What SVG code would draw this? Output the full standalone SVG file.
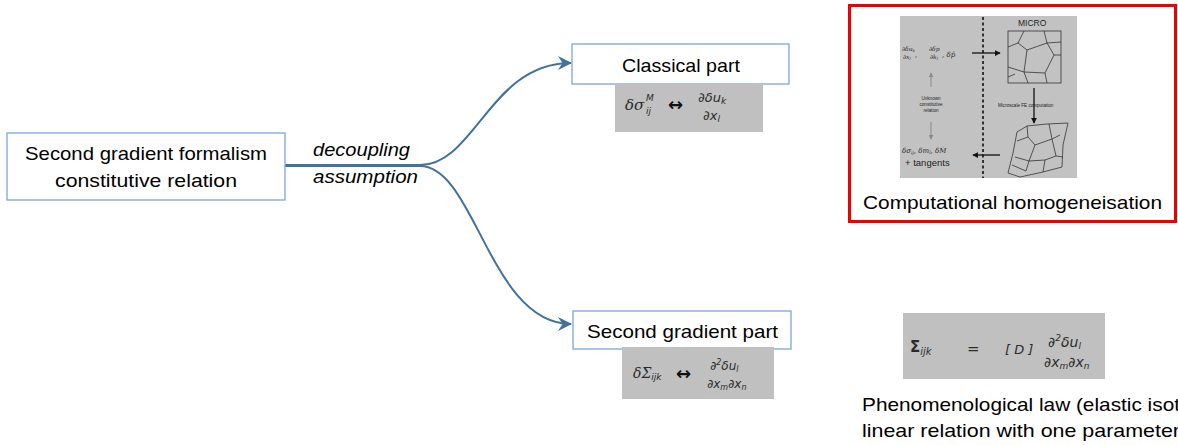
<svg xmlns="http://www.w3.org/2000/svg" width="1178" height="445" viewBox="0 0 1178 445">
  <style>
    .node { fill: #ffffff; stroke: #7BA7D9; stroke-width: 1.3; }
    .lbl { font-family: "Liberation Sans", Arial, sans-serif; font-size: 19px; fill: #000; }
    .ital { font-style: italic; }
    .eqbox { fill: #C0C0C0; }
    .eq { font-family: "DejaVu Serif", "Liberation Serif", serif; font-style: italic; fill: #2b2b2b; }
    .eqs { font-family: "DejaVu Sans", "Liberation Sans", sans-serif; font-style: italic; fill: #2b2b2b; }
    .up { font-style: normal; }
    .conn { fill: none; stroke: #41719C; stroke-width: 2; }
    .grain { fill: none; stroke: #333; stroke-width: 0.8; }
    .tiny { font-family: "Liberation Sans", Arial, sans-serif; fill: #222; }
  </style>
  <defs>
    <marker id="arrow" viewBox="0 0 14 14" refX="13" refY="7" markerWidth="14" markerHeight="14" markerUnits="userSpaceOnUse" orient="auto">
      <path d="M0,0 L14,7 L0,14 L4.5,7 Z" fill="#41719C"/>
    </marker>
    <marker id="blk" viewBox="0 0 8 8" refX="7" refY="4" markerWidth="6" markerHeight="6" markerUnits="userSpaceOnUse" orient="auto">
      <path d="M0,0 L8,4 L0,8 Z" fill="#111"/>
    </marker>
    <marker id="gry" viewBox="0 0 8 8" refX="7" refY="4" markerWidth="5" markerHeight="5" markerUnits="userSpaceOnUse" orient="auto">
      <path d="M0,0 L8,4 L0,8 Z" fill="#8a8a8a"/>
    </marker>
  </defs>

  <rect width="1178" height="445" fill="#ffffff"/>

  <!-- connectors -->
  <g id="connectors">
    <path class="conn" d="M285,165 L420,165 C475,165 490,63 571,63" marker-end="url(#arrow)"/>
    <path class="conn" d="M285,166 L420,166 C475,166 490,324 571,324" marker-end="url(#arrow)"/>
    <text class="lbl ital" x="313" y="156" textLength="97" lengthAdjust="spacingAndGlyphs">decoupling</text>
    <text class="lbl ital" x="313" y="183" textLength="105" lengthAdjust="spacingAndGlyphs">assumption</text>
  </g>

  <!-- source node -->
  <g id="node-formalism">
    <rect class="node" x="7" y="133" width="278" height="67"/>
    <text class="lbl" x="25" y="160" textLength="242" lengthAdjust="spacingAndGlyphs">Second gradient formalism</text>
    <text class="lbl" x="55" y="187" textLength="182" lengthAdjust="spacingAndGlyphs">constitutive relation</text>
  </g>

  <!-- classical part -->
  <g id="node-classical">
    <rect class="node" x="572" y="44" width="217" height="40"/>
    <text class="lbl" x="622" y="72" textLength="118" lengthAdjust="spacingAndGlyphs">Classical part</text>
    <rect class="eqbox" x="615" y="84" width="148" height="48"/>
    <text class="eq" x="625" y="110" font-size="15">δσ</text>
    <text class="eqs" x="646" y="101" font-size="9">M</text>
    <text class="eqs" x="646" y="114" font-size="9">ij</text>
    <text x="668" y="111" font-family="DejaVu Sans, sans-serif" font-size="18" font-weight="bold" fill="#111">↔</text>
    <text class="eqs" x="698" y="102" font-size="13">∂δu<tspan font-size="9" dy="2">k</tspan></text>
    <text class="eqs" x="703" y="120" font-size="13">∂x<tspan font-size="9" dy="2">l</tspan></text>
  </g>

  <!-- second gradient part -->
  <g id="node-second">
    <rect class="node" x="573" y="311" width="218" height="38"/>
    <text class="lbl" x="587" y="338" textLength="191" lengthAdjust="spacingAndGlyphs">Second gradient part</text>
    <rect class="eqbox" x="622" y="347" width="152" height="52"/>
    <text class="eq" x="633" y="378" font-size="14">δΣ<tspan class="eqs" font-size="9" dy="2">ijk</tspan></text>
    <text x="676" y="380" font-family="DejaVu Sans, sans-serif" font-size="18" font-weight="bold" fill="#111">↔</text>
    <text class="eqs" x="710" y="370" font-size="12">∂<tspan font-size="8" dy="-5">2</tspan><tspan dy="5">δu</tspan><tspan font-size="8" dy="2">l</tspan></text>
    <text class="eqs" x="707" y="388" font-size="12">∂x<tspan font-size="8" dy="2">m</tspan><tspan dy="-2">∂x</tspan><tspan font-size="8" dy="2">n</tspan></text>
  </g>

  <!-- computational homogenisation panel -->
  <g id="node-homogenisation">
    <rect x="849.5" y="5.5" width="326" height="216" fill="#ffffff" stroke="#EE0000" stroke-width="3"/>
    <rect x="900" y="16" width="177" height="162" fill="#C2C2C2"/>
    <line x1="983" y1="17" x2="983" y2="178" stroke="#111" stroke-width="1.6" stroke-dasharray="3,2.5"/>
    <!-- macro side -->
    <text class="eq" x="902" y="51" font-size="6">∂δu<tspan font-size="4" dy="1">k</tspan></text>
    <text class="eq" x="903" y="59" font-size="6">∂x<tspan font-size="4" dy="1">l</tspan></text>
    <text class="eq" x="915" y="57" font-size="7">,</text>
    <text class="eq" x="929" y="51" font-size="6">∂δp</text>
    <text class="eq" x="930" y="59" font-size="6">∂k<tspan font-size="4" dy="1">l</tspan></text>
    <text class="eq" x="942" y="57" font-size="7">, δp̄</text>
    <line x1="931" y1="87" x2="931" y2="73" stroke="#8a8a8a" stroke-width="1" marker-end="url(#gry)"/>
    <text class="tiny" x="931" y="100" font-size="4.6" fill="#8c8c8c" text-anchor="middle">Unknown</text>
    <text class="tiny" x="931" y="106" font-size="4.6" fill="#8c8c8c" text-anchor="middle">constitutive</text>
    <text class="tiny" x="931" y="112" font-size="4.6" fill="#8c8c8c" text-anchor="middle">relation</text>
    <line x1="931" y1="122" x2="931" y2="139" stroke="#8a8a8a" stroke-width="1" marker-end="url(#gry)"/>
    <text class="eq" x="902" y="153" font-size="7">δσ<tspan font-size="4.5" dy="1">ij</tspan><tspan dy="-1">, δm</tspan><tspan font-size="4.5" dy="1">l</tspan><tspan dy="-1">, δṀ</tspan></text>
    <text class="tiny" x="905" y="166" font-size="9.5">+ tangents</text>
    <!-- micro side -->
    <text class="tiny" x="1018" y="26" font-size="8.5" fill="#333">MICRO</text>
    <line x1="972" y1="53" x2="1000" y2="53" stroke="#111" stroke-width="1.3" marker-end="url(#blk)"/>
    <rect class="grain" x="1008" y="31" width="53" height="52"/>
    <path class="grain" d="M1024,31 L1018,43 L1008,47 M1018,43 L1027,50 L1047,43 L1044,31 M1047,43 L1061,42 M1047,43 L1054,55 L1061,55 M1027,50 L1024,72 L1008,67 M1024,72 L1045,73 L1054,55 M1045,73 L1047,83 M1024,72 L1028,83 M1008,77 L1015,74"/>
    <line x1="1034" y1="88" x2="1034" y2="123" stroke="#111" stroke-width="1.3" marker-end="url(#blk)"/>
    <text class="tiny" x="998" y="107" font-size="4.6">Microscale FE computation</text>
    <path class="grain" d="M1017,132 L1027,126 L1047,124 L1068,123 L1063,145 L1062,167 L1043,172 L1020,177 L1008,173 L1013,153 Z"/>
    <path class="grain" d="M1027,126 L1028,137 L1017,141 M1028,137 L1035,145 L1052,139 L1049,124 M1052,139 L1060,135 M1052,139 L1056,156 L1063,157 M1035,145 L1029,161 L1015,157 M1029,161 L1045,160 L1056,156 M1045,160 L1043,172 M1029,161 L1026,171 L1012,165"/>
    <line x1="1000" y1="155" x2="973" y2="155" stroke="#111" stroke-width="1.3" marker-end="url(#blk)"/>
    <text class="lbl" x="863" y="209" textLength="299" lengthAdjust="spacingAndGlyphs">Computational homogeneisation</text>
  </g>

  <!-- phenomenological law -->
  <g id="node-phenomenological">
    <rect class="eqbox" x="903" y="313" width="202" height="66"/>
    <text class="eqs up" x="910" y="352" font-size="15" font-weight="bold">Σ<tspan class="ital" font-weight="normal" font-size="10" dy="3">ijk</tspan></text>
    <text class="eqs up" x="967" y="354" font-size="15">=</text>
    <text class="eqs" x="1005" y="354" font-size="13">[ D ]</text>
    <text class="eqs" x="1048" y="347" font-size="14">∂<tspan font-size="9" dy="-6">2</tspan><tspan dy="6">δu</tspan><tspan font-size="9" dy="2">l</tspan></text>
    <text class="eqs" x="1044" y="367" font-size="14">∂x<tspan font-size="9" dy="2">m</tspan><tspan dy="-2">∂x</tspan><tspan font-size="9" dy="2">n</tspan></text>
    <text class="lbl" x="862" y="411" textLength="318" lengthAdjust="spacingAndGlyphs">Phenomenological law (elastic isot</text>
    <text class="lbl" x="862" y="437" textLength="318" lengthAdjust="spacingAndGlyphs">linear relation with one parameter</text>
  </g>
</svg>
